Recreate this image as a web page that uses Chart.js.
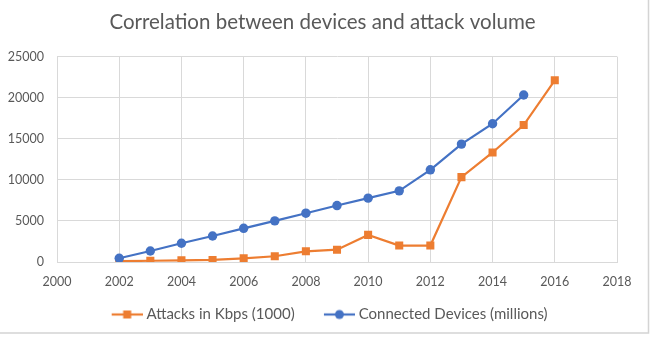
<!DOCTYPE html>
<html>
<head>
<meta charset="utf-8">
<script src="https://cdn.jsdelivr.net/npm/chart.js@4/dist/chart.umd.min.js"></script>
<style>
  html, body { margin: 0; padding: 0; background: #ffffff; }
  #wrap { width: 656px; height: 339px; position: relative; }
</style>
</head>
<body>
<div id="wrap"><canvas id="c" width="656" height="339"></canvas></div>
<script>
const chartTitle = "Correlation between devices and attack volume";
const attackLabel = "Attacks in Kbps (1000)";
const deviceLabel = "Connected Devices (millions)";
const attackYears = [2002, 2003, 2004, 2005, 2006, 2007, 2008, 2009, 2010, 2011, 2012, 2013, 2014, 2015, 2016];
const attackValues = [100, 150, 200, 250, 450, 700, 1300, 1500, 3300, 2000, 2000, 10330, 13330, 16670, 22110];
const deviceYears = [2002, 2003, 2004, 2005, 2006, 2007, 2008, 2009, 2010, 2011, 2012, 2013, 2014, 2015];
const deviceValues = [450, 1340, 2280, 3170, 4100, 5000, 5940, 6870, 7770, 8660, 11220, 14350, 16830, 20330];
const xMin = 2000, xMax = 2018, xStep = 2;
const yMin = 0, yMax = 25000, yStep = 5000;

const ORANGE = "#ED7D31";
const BLUE = "#4472C4";
const TEXT = "#595959";
const GRID = "#d9d9d9";
const FONT = "Lato, 'Open Sans', sans-serif";

const LEG_W = 50.5;       // reserved icon width in legend
function legendIcon(color, shape) {
  const cv = document.createElement("canvas");
  const C = LEG_W + 7;
  cv.width = Math.round(C); cv.height = 12;
  const g = cv.getContext("2d");
  const x1 = cv.width, x0 = x1 - 31, mid = x0 + 15.5;
  g.strokeStyle = color; g.lineWidth = 2.2;
  g.beginPath(); g.moveTo(x0, 6); g.lineTo(x1, 6); g.stroke();
  g.fillStyle = color;
  if (shape === "rect") { g.fillRect(mid - 4, 2, 8, 8); }
  else { g.beginPath(); g.arc(mid, 6, 4.5, 0, Math.PI * 2); g.fill(); }
  return cv;
}
const icons = [legendIcon(ORANGE, "rect"), legendIcon(BLUE, "circle")];

const frame = {
  id: "frame",
  afterDraw(chart) {
    const ctx = chart.ctx;
    ctx.save();
    ctx.strokeStyle = "#d4d4d4";
    ctx.lineWidth = 1.5;
    ctx.beginPath();
    ctx.moveTo(648.5, 0); ctx.lineTo(648.5, 333); ctx.lineTo(0, 333);
    ctx.stroke();
    ctx.restore();
  }
};

// nudge title and legend horizontally to match the reference centring
const nudge = {
  id: "nudge",
  afterLayout(chart) {
    if (chart.legend) { chart.legend.left += 9.5; chart.legend.right += 9.5; }
    if (chart.titleBlock) { chart.titleBlock.left += 14; chart.titleBlock.right += 14; }
  }
};

const toPts = (xs, ys) => xs.map((x, i) => ({ x: x, y: ys[i] }));

new Chart(document.getElementById("c"), {
  type: "line",
  data: {
    datasets: [
      {
        label: attackLabel,
        data: toPts(attackYears, attackValues),
        borderColor: ORANGE, backgroundColor: ORANGE,
        borderWidth: 2.2, pointStyle: "rect", pointRadius: 5.7, pointHoverRadius: 5.7,
        pointBorderWidth: 0, tension: 0, order: 1
      },
      {
        label: deviceLabel,
        data: toPts(deviceYears, deviceValues),
        borderColor: BLUE, backgroundColor: BLUE,
        borderWidth: 2.2, pointStyle: "circle", pointRadius: 4.7, pointHoverRadius: 4.7,
        pointBorderWidth: 0, tension: 0, order: 0
      }
    ]
  },
  options: {
    responsive: false,
    animation: false,
    layout: { padding: { left: 0, right: 39, top: 4, bottom: 7 } },
    scales: {
      x: {
        type: "linear", min: xMin, max: xMax,
        ticks: { stepSize: xStep, color: TEXT, font: { family: FONT, size: 12.5 }, padding: 12,
                 callback: v => String(v), maxRotation: 0 },
        grid: { color: GRID, drawTicks: false, lineWidth: 1 },
        border: { color: GRID }
      },
      y: {
        min: yMin, max: yMax,
        ticks: { stepSize: yStep, color: TEXT, font: { family: FONT, size: 12.5 }, padding: 13,
                 callback: v => String(v) },
        grid: { color: GRID, drawTicks: false, lineWidth: 1 },
        border: { color: GRID },
        afterFit(scale) { scale.width = 57; }
      }
    },
    plugins: {
      title: {
        display: true, text: chartTitle, color: TEXT,
        font: { family: FONT, size: 20.5, weight: "normal" },
        padding: { top: 6, bottom: 22 }
      },
      legend: {
        position: "bottom",
        labels: {
          color: TEXT, font: { family: FONT, size: 15 },
          usePointStyle: true, pointStyleWidth: LEG_W, padding: 6,
          generateLabels(chart) {
            return chart.data.datasets.map((ds, i) => ({
              text: ds.label, fontColor: TEXT, pointStyle: icons[i],
              strokeStyle: ds.borderColor, fillStyle: ds.borderColor,
              lineWidth: 0, hidden: false, datasetIndex: i
            }));
          }
        }
      },
      tooltip: { enabled: false }
    }
  },
  plugins: [frame, nudge]
});
</script>
</body>
</html>
